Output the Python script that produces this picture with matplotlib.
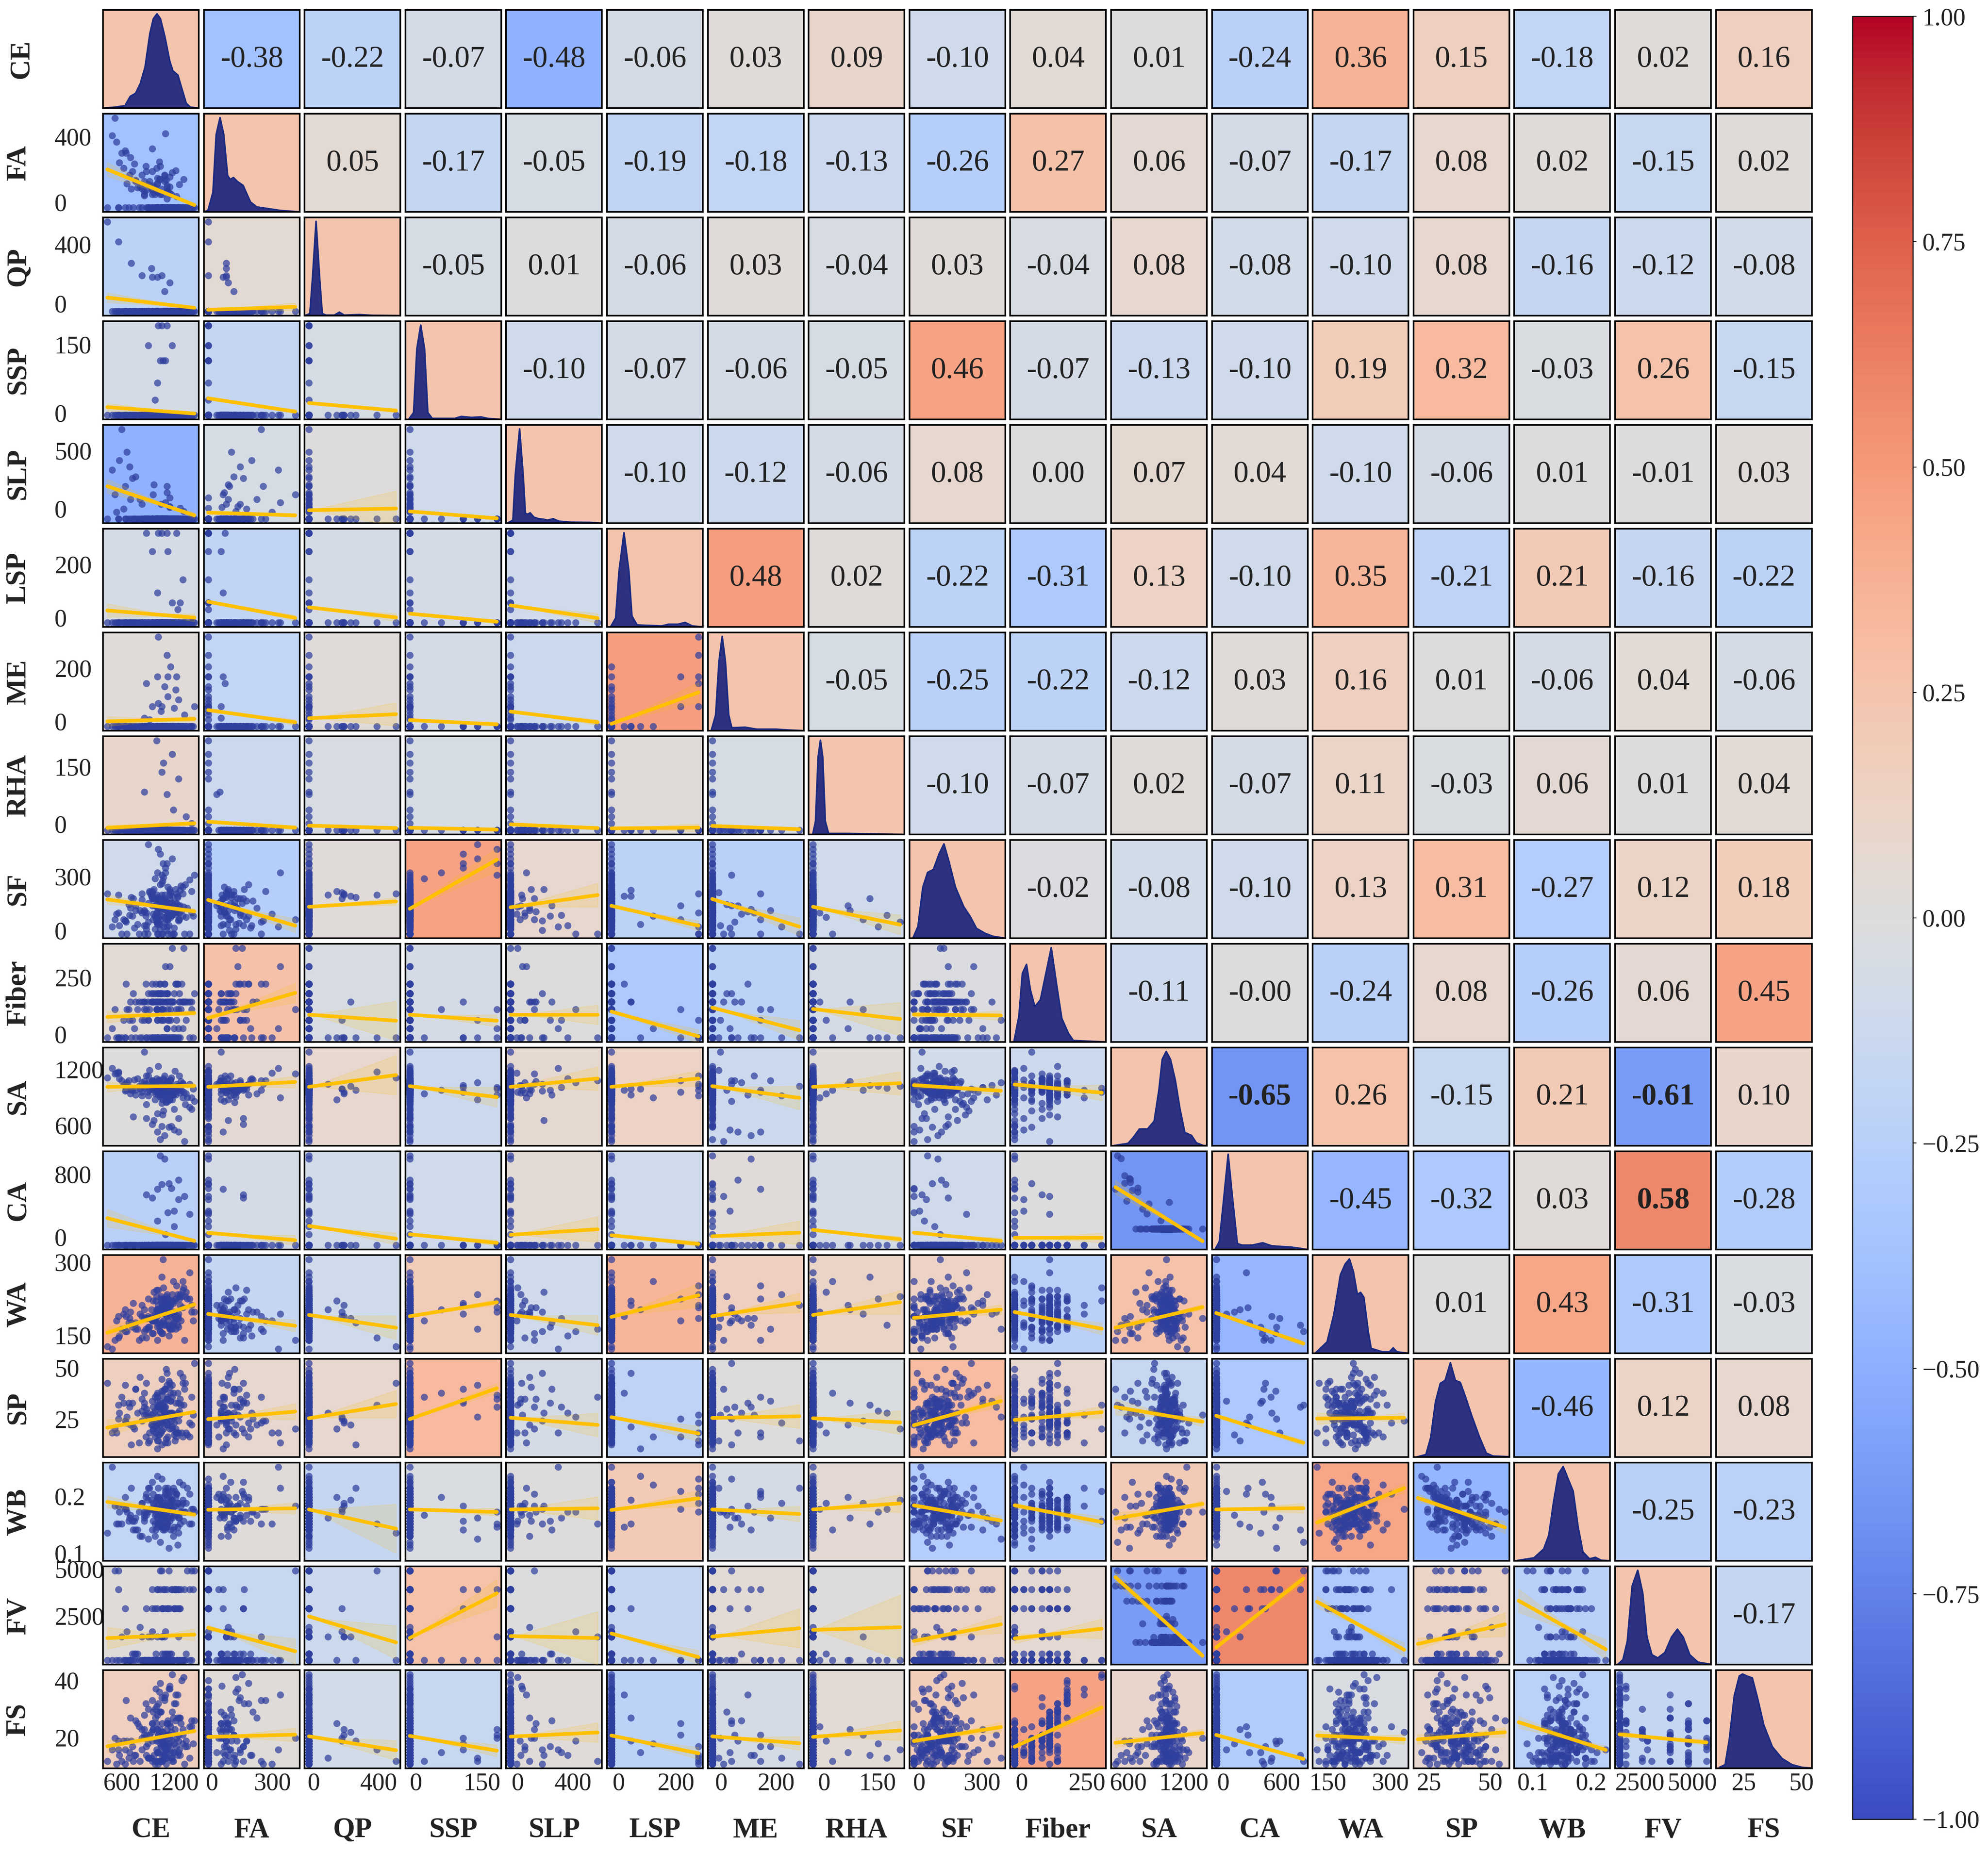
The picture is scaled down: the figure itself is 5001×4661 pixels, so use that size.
#!/usr/bin/env python3
"""Pair plot of the mix design variables with correlation coloured panels."""

import numpy as np
import matplotlib
matplotlib.use("Agg")
import matplotlib.pyplot as plt
from matplotlib.cm import ScalarMappable
from matplotlib.colors import Normalize

plt.rcParams['font.family'] = ['Liberation Serif', 'DejaVu Serif']

names = ["CE", "FA", "QP", "SSP", "SLP", "LSP", "ME", "RHA", "SF", "Fiber",
         "SA", "CA", "WA", "SP", "WB", "FV", "FS"]

CE = [920, 985, 1040, 1090, 960, 1010, 1130, 875, 1065, 1005,
      1000, 1150, 1240, 960, 1080, 1330, 1190, 1020, 1270, 905,
      1110, 1220, 1380, 1050, 1300, 1160, 990, 1434, 1240, 1075,
      620, 780, 700, 860, 540, 905, 830, 650, 960, 745,
      600, 520, 690, 640, 760, 570, 810, 490, 720, 660,
      434, 560, 710, 1060, 830, 1010, 940, 1150, 950, 1090,
      980, 1010, 1075, 1040, 1100, 905, 1180, 1020, 1120, 1060,
      1020, 1120, 1230, 880, 1060, 1130, 950, 1180, 1010, 1300,
      1000, 860, 1180, 1060, 1250, 1120, 1190, 1340, 1400, 1080,
      1170, 1040, 1250, 880, 1090, 1140, 1320, 1010, 950, 1200,
      760, 980, 1130, 1060, 1250, 1010, 1200, 860, 1380, 1100,
      1040, 1150, 1180, 950, 1260, 1100, 1030, 1310, 1220, 1120,
      1040, 1100, 980, 1160, 1220, 900, 1060, 1130, 1010, 1190,
      1090, 950, 1270, 1030, 1150, 1070, 860, 1210, 1120, 1000,
      1060, 1180, 940, 1110, 1280, 1020, 1140, 830, 1240, 1080,
      560, 680, 800, 640, 730, 880, 1350, 1400, 1420, 1300,
      1010, 1050, 1170, 1090, 970, 1230, 1120, 1040, 1150, 1260,
      1080, 1130, 1000, 1200, 920, 1160, 1070, 1290, 1020, 1110]
FA = [120, 85, 60, 150, 100, 135, 75, 190, 60, 110,
      0, 0, 0, 0, 0, 0, 0, 0, 0, 0,
      0, 0, 0, 0, 0, 0, 0, 0, 0, 0,
      180, 90, 230, 120, 300, 105, 150, 250, 70, 200,
      250, 410, 150, 260, 120, 205, 95, 330, 165, 110,
      0, 0, 85, 0, 85, 70, 85, 95, 85, 120,
      0, 0, 0, 0, 0, 0, 0, 0, 0, 0,
      0, 0, 0, 80, 0, 0, 60, 0, 70, 0,
      0, 55, 0, 0, 0, 40, 0, 0, 0, 0,
      0, 0, 0, 165, 0, 0, 0, 0, 165, 0,
      125, 60, 0, 0, 0, 70, 0, 60, 0, 0,
      190, 140, 160, 270, 0, 340, 210, 130, 170, 90,
      0, 0, 0, 0, 0, 0, 0, 0, 0, 0,
      0, 0, 0, 130, 0, 0, 75, 0, 100, 0,
      0, 0, 0, 0, 0, 0, 0, 0, 0, 0,
      0, 0, 0, 0, 0, 0, 0, 0, 0, 0,
      110, 85, 60, 145, 95, 50, 75, 130, 65, 105,
      0, 0, 180, 0, 0, 0, 0, 0, 0, 125]
QP = [0] * 50 + [500, 390, 270, 200, 200, 190, 240, 160, 190, 110] + [0] * 120
SSP = [0] * 60 + [30, 65, 110, 110, 110, 140, 140, 180, 180, 180] + [0] * 110
SLP = ([0] * 30 + [60, 0, 120, 0, 40, 0, 90, 0, 150, 0]
       + [550, 150, 320, 200, 260, 360, 120, 300, 250, 410]
       + [0] * 60 + [0, 75, 0, 0, 0, 100, 0, 45, 0, 0]
       + [0] * 10 + [0, 0, 65, 0, 130, 0, 0, 0, 200, 0]
       + [0] * 20 + [0, 90, 0, 0, 210, 0, 160, 0, 70, 0] + [0] * 10)
LSP = ([0] * 10 + [0, 0, 40, 0, 0, 0, 0, 0, 60, 0] + [0] * 50
       + [270, 270, 270, 270, 270, 215, 215, 60, 90, 130] + [0] * 100)
ME = ([0] * 20 + [0, 110, 0, 45, 0, 180, 0, 60, 0, 0] + [0] * 40
      + [270, 215, 150, 130, 60, 150, 60, 0, 0, 0] + [0] * 10
      + [0, 0, 80, 0, 120, 0, 35, 0, 0, 55]
      + [0, 0, 0, 0, 0, 150, 0, 25, 0, 0] + [0] * 60
      + [0, 90, 0, 0, 20, 0, 0, 0, 70, 0])
RHA = [0] * 80 + [200, 85, 170, 130, 115, 80, 45, 30, 15, 150] + [0] * 90
SF = [180, 120, 95, 150, 60, 110, 200, 75, 140, 165,
      90, 130, 160, 85, 110, 210, 120, 70, 185, 50,
      140, 95, 230, 125, 170, 100, 65, 250, 155, 115,
      60, 40, 110, 0, 85, 130, 90, 50, 150, 25,
      0, 60, 80, 55, 120, 35, 100, 30, 75, 0,
      170, 165, 155, 165, 170, 150, 160, 180, 175, 165,
      235, 260, 300, 340, 280, 380, 320, 360, 300, 250,
      0, 30, 170, 90, 0, 60, 120, 160, 40, 75,
      50, 100, 80, 150, 60, 120, 0, 70, 90, 30,
      0, 60, 120, 35, 105, 80, 0, 45, 150, 25,
      100, 75, 0, 140, 55, 0, 90, 35, 0, 115,
      210, 150, 130, 180, 90, 260, 140, 115, 190, 75,
      105, 130, 20, 175, 85, 0, 215, 60, 145, 100,
      70, 155, 120, 40, 190, 0, 95, 135, 15, 85,
      125, 80, 165, 60, 205, 110, 35, 145, 90, 240,
      90, 125, 0, 55, 150, 20, 110, 180, 75, 200,
      155, 75, 115, 45, 190, 130, 95, 20, 165, 60,
      115, 85, 140, 0, 175, 70, 225, 100, 50, 135]
Fiber = [94, 120, 148, 180, 120, 94, 59, 180, 148, 120,
         120, 120, 180, 148, 94, 120, 0, 148, 120, 59,
         0, 180, 120, 148, 120, 94, 180, 148, 0, 120,
         59, 94, 120, 94, 0, 148, 59, 180, 120, 31,
         0, 94, 59, 0, 120, 0, 0, 31, 59, 94,
         0, 0, 0, 0, 0, 59, 120, 0, 0, 0,
         0, 94, 0, 120, 0, 59, 0, 0, 31, 94,
         0, 0, 59, 0, 0, 94, 0, 120, 0, 31,
         0, 120, 0, 0, 94, 31, 0, 59, 120, 0,
         0, 0, 0, 94, 0, 59, 120, 0, 0, 31,
         0, 0, 0, 0, 31, 0, 0, 59, 0, 0,
         180, 239, 300, 180, 148, 239, 120, 300, 180, 148,
         120, 120, 148, 120, 0, 120, 94, 148, 59, 120,
         148, 120, 0, 180, 120, 59, 120, 0, 148, 94,
         0, 120, 148, 120, 94, 148, 0, 120, 180, 59,
         0, 94, 120, 0, 148, 0, 120, 94, 0, 120,
         148, 59, 120, 180, 0, 94, 120, 148, 0, 120,
         0, 120, 94, 148, 0, 59, 120, 180, 120, 0]
SA = [1000, 1040, 960, 1100, 1010, 980, 880, 1060, 1000, 1030,
      1020, 900, 1000, 1090, 1120, 850, 970, 1040, 1010, 1150,
      1030, 950, 820, 1000, 1060, 1100, 980, 880, 1040, 1010,
      1050, 1120, 960, 1020, 1180, 940, 1080, 1000, 1060, 1110,
      1100, 1170, 1030, 1060, 950, 1120, 1010, 1230, 1000, 1080,
      1130, 1190, 1000, 960, 980, 1010, 1040, 900, 1010, 1060,
      960, 1000, 1030, 1050, 980, 1080, 900, 950, 1030, 1010,
      1040, 940, 1000, 1150, 1060, 980, 1100, 950, 1010, 920,
      1040, 1090, 1020, 1050, 1000, 1060, 1000, 960, 920, 1040,
      620, 480, 560, 700, 520, 610, 460, 750, 640, 580,
      1000, 900, 1040, 620, 700, 560, 800, 1400, 1060, 950,
      950, 1000, 1020, 1100, 1040, 920, 1110, 980, 1010, 1060,
      1000, 940, 1050, 1110, 1020, 980, 860, 1070, 1010, 950,
      1150, 1030, 970, 1080, 1000, 900, 1040, 1200, 990, 1120,
      1060, 960, 1010, 880, 1090, 1250, 1030, 940, 1000, 780,
      1180, 1100, 1040, 990, 720, 850, 920, 800, 1010, 1070,
      1020, 970, 1130, 1000, 680, 1060, 1090, 930, 1040, 1150,
      1000, 1080, 1010, 960, 1210, 1050, 740, 990, 1100, 870]
CA = ([0] * 22 + [380] + [0] * 67
      + [700, 1100, 800, 620, 1060, 760, 600, 300, 580, 420]
      + [0, 0, 400, 750, 560, 690, 230, 0, 0, 130] + [0] * 70)
WA = [195, 205, 180, 235, 190, 210, 240, 170, 225, 200,
      215, 170, 200, 235, 190, 245, 185, 260, 225, 240,
      205, 195, 300, 245, 220, 170, 235, 210, 250, 330,
      205, 170, 210, 165, 190, 175, 150, 200, 160, 180,
      170, 145, 195, 165, 185, 155, 205, 125, 175, 165,
      130, 150, 185, 225, 200, 210, 195, 235, 200, 215,
      190, 215, 225, 205, 230, 170, 250, 210, 235, 220,
      225, 250, 270, 195, 220, 240, 190, 235, 215, 280,
      245, 215, 180, 290, 205, 225, 280, 255, 210, 240,
      200, 165, 195, 150, 180, 175, 145, 215, 160, 185,
      170, 190, 220, 160, 175, 145, 210, 195, 240, 205,
      215, 225, 235, 190, 245, 205, 210, 265, 240, 200,
      185, 210, 195, 225, 170, 200, 240, 180, 215, 230,
      205, 190, 250, 175, 220, 160, 195, 235, 210, 185,
      230, 170, 215, 245, 190, 205, 155, 225, 180, 265,
      200, 185, 145, 215, 230, 195, 240, 225, 190, 260,
      175, 235, 205, 180, 255, 195, 220, 165, 210, 240,
      220, 190, 260, 200, 175, 230, 185, 245, 205, 215]
SP = [20, 25, 30, 28, 22, 33, 38, 18, 27, 26,
      24, 30, 40, 21, 33, 45, 29, 19, 50, 15,
      28, 35, 25, 32, 45, 36, 20, 55, 30, 26,
      35, 30, 24, 40, 20, 28, 37, 25, 33, 22,
      38, 22, 33, 26, 42, 30, 48, 20, 35, 28,
      45, 34, 14, 25, 26, 28, 24, 22, 27, 30,
      38, 40, 35, 36, 42, 28, 44, 33, 37, 39,
      16, 25, 20, 29, 14, 18, 27, 23, 12, 18,
      22, 35, 30, 34, 26, 24, 40, 20, 24, 31,
      30, 34, 20, 45, 33, 27, 42, 16, 36, 28,
      42, 31, 24, 41, 35, 38, 19, 29, 18, 36,
      25, 29, 22, 26, 31, 15, 27, 34, 20, 44,
      26, 33, 18, 40, 22, 30, 47, 15, 36, 28,
      31, 24, 37, 19, 43, 27, 33, 16, 50, 23,
      21, 38, 29, 17, 34, 25, 46, 31, 20, 41,
      27, 35, 15, 44, 23, 32, 19, 38, 29, 48,
      34, 20, 26, 42, 30, 18, 37, 24, 45, 29,
      22, 30, 39, 25, 16, 36, 28, 20, 33, 52]
WB = [.155, .150, .17, .145, .165, .16, .14, .175, .15, .16,
      .155, .165, .125, .135, .14, .15, .11, .17, .13, .19,
      .13, .16, .18, .145, .17, .14, .12, .15, .095, .155,
      .16, .12, .145, .135, .13, .15, .165, .155, .18, .135,
      .13, .16, .14, .155, .12, .15, .11, .225, .135, .15,
      .115, .13, .19, .16, .165, .15, .17, .175, .155, .14,
      .145, .175, .12, .135, .16, .105, .14, .13, .15, .125,
      .19, .165, .18, .15, .205, .185, .155, .17, .21, .195,
      .17, .14, .155, .13, .165, .175, .12, .165, .155, .15,
      .16, .10, .14, .18, .12, .09, .15, .13, .2, .125,
      .14, .11, .19, .125, .115, .175, .145, .15, .13, .185,
      .17, .16, .185, .155, .14, .19, .15, .135, .175, .125,
      .15, .18, .13, .16, .145, .17, .125, .155, .14, .19,
      .165, .12, .15, .175, .135, .16, .145, .185, .13, .155,
      .14, .17, .155, .125, .16, .15, .18, .11, .165, .145,
      .16, .135, .15, .175, .12, .145, .19, .13, .155, .165,
      .125, .155, .17, .14, .16, .18, .15, .135, .145, .2,
      .175, .13, .145, .16, .19, .12, .165, .15, .14, .155]
FV = [0, 0, 0, 360, 0, 0, 0, 0, 360, 0,
      0, 2900, 0, 0, 3960, 0, 0, 0, 2900, 0,
      0, 2900, 3960, 0, 0, 0, 360, 5000, 0, 0,
      0, 360, 0, 0, 0, 1300, 0, 0, 0, 360,
      1300, 5000, 0, 0, 360, 0, 1840, 0, 360, 1600,
      0, 5000, 0, 1300, 1300, 2900, 1300, 0, 1600, 1300,
      0, 0, 0, 3960, 2900, 0, 3960, 0, 3960, 1300,
      0, 0, 0, 0, 0, 0, 0, 0, 0, 0,
      0, 0, 0, 0, 1300, 0, 0, 360, 0, 0,
      3960, 5000, 3960, 2900, 3960, 5000, 3960, 1300, 2900, 2900,
      0, 0, 2900, 5000, 3960, 3960, 2900, 0, 0, 1600,
      0, 0, 0, 0, 2900, 0, 0, 0, 3960, 0,
      0, 0, 2900, 0, 3960, 0, 0, 2900, 3960, 0,
      0, 3960, 0, 0, 0, 2900, 0, 3960, 0, 0,
      2900, 0, 0, 0, 3960, 0, 0, 0, 2900, 0,
      3960, 0, 0, 2900, 0, 0, 5000, 5000, 3960, 0,
      0, 0, 360, 0, 0, 3960, 0, 0, 360, 0,
      0, 360, 0, 3960, 0, 0, 2900, 0, 0, 360]
FS = [22, 28, 30, 35, 24, 20, 18, 33, 26, 24,
      26, 22, 36, 30, 20, 18, 16, 33, 28, 14,
      14, 36, 25, 30, 22, 18, 38, 27, 15, 23,
      20, 26, 28, 22, 12, 31, 17, 34, 24, 15,
      13, 21, 16, 12, 27, 15, 13, 17, 18, 20,
      13, 17, 20, 22, 24, 21, 23, 26, 20, 14,
      13, 16, 21, 19, 17, 14, 13, 22, 24, 21,
      12, 14, 18, 15, 13, 22, 26, 20, 16, 19,
      17, 24, 14, 15, 22, 16, 13, 20, 25, 19,
      14, 13, 20, 18, 15, 19, 12, 24, 13, 16,
      15, 12, 22, 20, 16, 13, 19, 21, 14, 17,
      40, 38, 43, 34, 28, 36, 30, 42, 33, 26,
      24, 20, 31, 16, 27, 19, 35, 22, 13, 28,
      18, 26, 15, 37, 21, 13, 29, 24, 17, 32,
      23, 30, 14, 19, 26, 16, 38, 21, 28, 15,
      20, 14, 25, 17, 13, 22, 18, 27, 19, 24,
      29, 18, 23, 34, 15, 21, 26, 13, 39, 17,
      16, 27, 20, 33, 14, 25, 18, 41, 22, 12]
columns = [CE, FA, QP, SSP, SLP, LSP, ME, RHA, SF, Fiber, SA, CA, WA, SP, WB, FV, FS]

# smallest and largest value of each variable
data_min = [434, 0, 0, 0, 0, 0, 0, 0, 0, 0, 460, 0, 125, 10, 0.076, 0, 12]
data_max = [1434, 410, 500, 180, 550, 270, 270, 200, 380, 300, 1400, 1100, 330, 55, 0.225, 5000, 43]

# correlation coefficients printed above the diagonal, one list per row
corr_CE = [-0.38, -0.22, -0.07, -0.48, -0.06, 0.03, 0.09, -0.10, 0.04, 0.01, -0.24, 0.36, 0.15, -0.18, 0.02, 0.16]
corr_FA = [0.05, -0.17, -0.05, -0.19, -0.18, -0.13, -0.26, 0.27, 0.06, -0.07, -0.17, 0.08, 0.02, -0.15, 0.02]
corr_QP = [-0.05, 0.01, -0.06, 0.03, -0.04, 0.03, -0.04, 0.08, -0.08, -0.10, 0.08, -0.16, -0.12, -0.08]
corr_SSP = [-0.10, -0.07, -0.06, -0.05, 0.46, -0.07, -0.13, -0.10, 0.19, 0.32, -0.03, 0.26, -0.15]
corr_SLP = [-0.10, -0.12, -0.06, 0.08, 0.00, 0.07, 0.04, -0.10, -0.06, 0.01, -0.01, 0.03]
corr_LSP = [0.48, 0.02, -0.22, -0.31, 0.13, -0.10, 0.35, -0.21, 0.21, -0.16, -0.22]
corr_ME = [-0.05, -0.25, -0.22, -0.12, 0.03, 0.16, 0.01, -0.06, 0.04, -0.06]
corr_RHA = [-0.10, -0.07, 0.02, -0.07, 0.11, -0.03, 0.06, 0.01, 0.04]
corr_SF = [-0.02, -0.08, -0.10, 0.13, 0.31, -0.27, 0.12, 0.18]
corr_Fiber = [-0.11, -0.0, -0.24, 0.08, -0.26, 0.06, 0.45]
corr_SA = [-0.65, 0.26, -0.15, 0.21, -0.61, 0.10]
corr_CA = [-0.45, -0.32, 0.03, 0.58, -0.28]
corr_WA = [0.01, 0.43, -0.31, -0.03]
corr_SP = [-0.46, 0.12, 0.08]
corr_WB = [-0.25, -0.23]
corr_FV = [-0.17]
corr_rows = [corr_CE, corr_FA, corr_QP, corr_SSP, corr_SLP, corr_LSP, corr_ME, corr_RHA,
             corr_SF, corr_Fiber, corr_SA, corr_CA, corr_WA, corr_SP, corr_WB, corr_FV]

# fit line height at its two ends and confidence half widths, as share of the y axis
reg_start = [
    [.433],
    [.184, .06],
    [.125, .215, .167],
    [.376, .108, .132, .12],
    [.168, .257, .2, .135, .22],
    [.095, .21, .127, .108, .195, .07],
    [.068, .13, .09, .068, .103, .062, .087],
    [.395, .39, .32, .3, .315, .33, .4, .32],
    [.255, .244, .278, .278, .278, .31, .35, .336, .28],
    [.6, .6, .6, .607, .6, .6, .607, .6, .617, .624],
    [.32, .17, .24, .155, .15, .145, .135, .2, .172, .12, .635],
    [.21, .4, .39, .377, .39, .37, .377, .39, .36, .42, .26, .41],
    [.3, .386, .395, .386, .4, .406, .398, .395, .324, .378, .51, .42, .392],
    [.6, .52, .523, .523, .523, .517, .523, .523, .565, .565, .43, .523, .39, .64],
    [.27, .375, .49, .27, .29, .316, .285, .353, .24, .266, .89, .175, .64, .21, .65],
    [.224, .32, .326, .33, .323, .334, .326, .32, .278, .22, .26, .34, .334, .295, .47, .346],
]
reg_end = [
    [.07],
    [.08, .09],
    [.06, .08, .09],
    [.08, .08, .149, .05],
    [.095, .092, .097, .054, .09],
    [.12, .086, .168, .065, .086, .39],
    [.114, .07, .065, .05, .065, .07, .054],
    [.274, .128, .375, .8, .44, .128, .118, .138],
    [.295, .5, .217, .217, .278, .058, .12, .234, .27],
    [.61, .65, .72, .495, .685, .685, .488, .637, .56, .54],
    [.088, .095, .11, .068, .206, .057, .172, .105, .088, .12, .085],
    [.497, .28, .26, .52, .286, .59, .514, .52, .445, .25, .47, .1],
    [.46, .463, .54, .7, .327, .24, .415, .352, .57, .457, .36, .145, .4],
    [.47, .534, .327, .497, .534, .636, .477, .585, .41, .395, .58, .536, .74, .34],
    [.305, .135, .226, .726, .27, .076, .37, .38, .41, .365, .09, .876, .15, .41, .155],
    [.38, .343, .184, .18, .365, .153, .255, .385, .42, .62, .36, .096, .295, .368, .187, .264],
]
ci_start = [
    [.07],
    [.05, .01],
    [.04, .015, .01],
    [.07, .015, .005, .01],
    [.07, .015, .01, .01, .01],
    [.05, .015, .01, .01, .01, .01],
    [.03, .01, .005, .005, .01, .005, .005],
    [.05, .02, .01, .01, .01, .01, .01, .01],
    [.06, .02, .01, .01, .02, .01, .02, .01, .03],
    [.05, .02, .01, .01, .01, .01, .02, .01, .03, .04],
    [.09, .02, .01, .01, .01, .01, .01, .01, .02, .02, .07],
    [.06, .02, .01, .01, .01, .01, .02, .01, .02, .02, .05, .015],
    [.08, .02, .01, .01, .01, .01, .02, .01, .02, .04, .08, .01, .06],
    [.06, .015, .01, .01, .01, .01, .02, .01, .02, .03, .06, .01, .05, .04],
    [.11, .03, .02, .01, .015, .01, .03, .01, .05, .05, .06, .02, .06, .06, .12],
    [.06, .02, .01, .01, .01, .01, .02, .01, .02, .02, .05, .01, .05, .05, .06, .03],
]
ci_end = [
    [.02],
    [.01, .04],
    [.015, .02, .02],
    [.03, .02, .18, .02],
    [.04, .03, .04, .02, .05],
    [.03, .03, .12, .02, .03, .1],
    [.02, .02, .02, .02, .02, .04, .02],
    [.03, .07, .04, .12, .12, .05, .09, .1],
    [.03, .1, .2, .06, .1, .07, .1, .17, .05],
    [.03, .06, .2, .1, .12, .08, .12, .12, .05, .08],
    [.02, .05, .06, .03, .13, .03, .12, .03, .03, .05, .02],
    [.03, .06, .12, .03, .1, .12, .1, .12, .05, .06, .03, .03],
    [.02, .08, .14, .05, .12, .08, .12, .12, .06, .06, .05, .03, .05],
    [.03, .06, .25, .04, .12, .08, .08, .09, .05, .06, .03, .05, .05, .06],
    [.06, .13, .17, .14, .27, .07, .2, .33, .09, .1, .03, .05, .07, .12, .1],
    [.02, .07, .1, .06, .1, .06, .07, .1, .05, .07, .04, .02, .05, .05, .04, .03],
]

# density curves: position along the panel (percent) and height (share of the panel)
kde_CE = [(0, 0), (13, .01), (23, .025), (28.5, .12), (34, .15), (39, .25), (44, .42), (49, .76), (52.6, .91),
          (56.4, .96), (60, .91), (64.6, .73), (69.7, .48), (73, .38), (78.3, .335), (81.7, .22), (86.9, .05),
          (91.3, .01), (100, 0)]
kde_FA = [(0, 0), (4.4, .015), (9.6, .2), (13, .79), (17, .96), (20.8, .79), (24.9, .37), (27.6, .33), (31, .35),
          (35, .31), (41, .27), (48.8, .1), (55.5, .05), (65.8, .035), (79.5, .015), (100, 0)]
kde_QP = [(0, 0), (5.5, .02), (8.2, .37), (12, .96), (15.8, .37), (18.5, .02), (22.6, .005), (31, .005),
          (36.3, .035), (41.4, .005), (57, .011), (70.6, .003), (100, 0)]
kde_SSP = [(3.4, 0), (8.6, .07), (12, .72), (16, .96), (20, .72), (23.4, .07), (28, .01), (51.5, .01), (58.4, .03),
           (68.7, .02), (79, .025), (86, .01), (100, 0)]
kde_SLP = [(2, .005), (7, .03), (9.5, .49), (14, .96), (17.7, .49), (20, .1), (22.4, .09), (25, .105), (29, .06),
           (34, .045), (39, .04), (43, .03), (49, .045), (55, .02), (67, .01), (87, .008), (100, 0)]
kde_LSP = [(4, .005), (9, .09), (12.6, .57), (17.7, .96), (22.8, .57), (26, .11), (31.4, .02), (57, .01), (64, .027),
           (74, .027), (81.6, .046), (89, .01), (100, 0)]
kde_ME = [(3.7, .005), (8.2, .16), (11.6, .7), (15, .96), (18.4, .7), (21.8, .16), (25, .03), (39, .035), (51, .015),
          (71, .015), (88, .005), (100, 0)]
kde_RHA = [(4.4, .005), (7.2, .135), (9.9, .79), (12.3, .96), (14.7, .79), (17.4, .135), (20.8, .01), (41, .01), (100, 0)]
kde_SF = [(3.8, .005), (8.9, .12), (14, .52), (19, .67), (25, .7), (31, .86), (36, .96), (41, .79), (48, .52),
          (56.7, .32), (63.5, .22), (70, .1), (79, .05), (87, .02), (100, 0)]
kde_Fiber = [(4, .01), (9, .26), (12.7, .7), (17, .79), (21, .53), (25.7, .36), (31.5, .43), (36.6, .67), (42.8, .96),
             (48.6, .57), (53.8, .24), (60.6, .09), (65.8, .015), (100, 0)]
kde_SA = [(4, .003), (17.7, .024), (22.8, .08), (29.6, .17), (38, .17), (45, .25), (50, .57), (53.4, .88), (57.5, .96),
          (62, .88), (67, .67), (72, .37), (77, .135), (84, .105), (89, .03), (96, .003), (100, 0)]
kde_CA = [(3.7, .007), (7.8, .08), (12, .48), (17, .97), (22, .48), (26.6, .06), (31.7, .044), (42, .044), (53, .068),
          (62.5, .037), (83, .024), (93, .01), (100, 0)]
kde_WA = [(3.4, .007), (15, .115), (22, .39), (29, .8), (34, .91), (38.4, .96), (42.5, .83), (46.6, .6), (50, .62),
          (53.4, .57), (58, .22), (61, .05), (73, .014), (80, .014), (84, .054), (88, .014), (100, 0)]
kde_SP = [(4.4, .003), (13, .025), (18, .2), (23, .565), (28, .75), (33, .78), (38.5, .96), (43.7, .78), (48.8, .76),
          (54, .62), (60.8, .42), (69, .2), (76, .04), (83, .01), (100, .003)]
kde_WB = [(3.4, .003), (20.5, .03), (30.7, .12), (36, .26), (41, .6), (46, .885), (51, .96), (56.3, .83), (61.4, .71),
          (66.5, .35), (71.6, .09), (78.5, .02), (84.6, .035), (90.4, .006), (100, 0)]
kde_FV = [(3.4, .007), (8.2, .05), (12.7, .235), (17.8, .8), (23.6, .96), (28.8, .73), (33.2, .28), (38.4, .1),
          (44.5, .067), (52, .123), (58.9, .28), (65, .36), (71, .28), (77.9, .1), (86.3, .025), (100, .002)]
kde_FS = [(3.8, .01), (9.6, .037), (14, .296), (19.2, .74), (24.4, .94), (27.8, .96), (32.3, .94), (38, .92),
          (43.3, .72), (50, .44), (58.8, .22), (69, .1), (79.4, .037), (89.7, .01), (100, .002)]
kde_curves = [kde_CE, kde_FA, kde_QP, kde_SSP, kde_SLP, kde_LSP, kde_ME, kde_RHA, kde_SF, kde_Fiber,
              kde_SA, kde_CA, kde_WA, kde_SP, kde_WB, kde_FV, kde_FS]

# tick labels and where they sit along each panel edge
x_tick_labels = [["600", "1200"], ["0", "300"], ["0", "400"], ["0", "150"], ["0", "400"], ["0", "200"],
                 ["0", "200"], ["0", "150"], ["0", "300"], ["0", "250"], ["600", "1200"], ["0", "600"],
                 ["150", "300"], ["25", "50"], ["0.1", "0.2"], ["2500", "5000"], ["25", "50"]]
x_tick_at = [(.196, .742), (.085, .72), (.096, .774), (.11, .797), (.12, .70), (.12, .72), (.14, .71), (.16, .72),
             (.10, .76), (.12, .80), (.18, .76), (.12, .73), (.16, .81), (.16, .80), (.19, .80), (.257, .805), (.29, .89)]
y_tick_labels = [None, ["0", "400"], ["0", "400"], ["0", "150"], ["0", "500"], ["0", "200"], ["0", "200"],
                 ["0", "150"], ["0", "300"], ["0", "250"], ["600", "1200"], ["0", "800"], ["150", "300"],
                 ["25", "50"], ["0.1", "0.2"], ["2500", "5000"], ["20", "40"]]
y_tick_at = [None, (.07, .737), (.096, .70), (.04, .733), (.12, .71), (.065, .61), (.065, .61), (.08, .66),
             (.05, .60), (.05, .63), (.18, .75), (.10, .74), (.155, .90), (.36, .88), (.05, .63), (.469, .946), (.284, .87)]

# in the SA column the CA and FV points sit higher than in their other panels
lifted_panels = {(11, 10): 0.18, (15, 10): 0.2}

# figure layout in pixels
W, H = 5001, 4661
DPI = 300
LEFT, TOP = 259, 25
PANEL_W, PANEL_H = 241, 247
STEP_X, STEP_Y = 253.6, 261
CBAR = (4660, 41, 152, 4535)

DIAG_BG = "#F4C4AD"
KDE_FILL = "#2E3180"
KDE_EDGE = "#1B2A80"
POINT = "#2F3F9E"
FIT = "#FFC000"
TEXT = "#222222"


def panel_axes(fig, i, j):
    x0 = LEFT + j * STEP_X
    y0 = TOP + i * STEP_Y
    ax = fig.add_axes([x0 / W, 1 - (y0 + PANEL_H) / H, PANEL_W / W, PANEL_H / H])
    ax.set_xticks([])
    ax.set_yticks([])
    for s in ax.spines.values():
        s.set_linewidth(1.0)
        s.set_color("black")
    return ax


def axis_limits(k):
    pad = 0.05 * (data_max[k] - data_min[k])
    return data_min[k] - pad, data_max[k] + pad


def draw_fit(ax, i, j):
    """Fit line and fan shaped confidence band, typed as shares of the y axis."""
    ylo, yhi = axis_limits(i)
    span = yhi - ylo
    x0, x1 = data_min[j], data_max[j]
    y0 = ylo + reg_start[i - 1][j] * span
    y1 = ylo + reg_end[i - 1][j] * span
    c0 = ci_start[i - 1][j] * span
    c1 = ci_end[i - 1][j] * span

    # narrowest part of the band lies closer to the end with the smaller width
    t = c0 / (c0 + c1)
    xm = x0 + t * (x1 - x0)
    ym = y0 + t * (y1 - y0)
    cm = 0.25 * min(c0, c1)
    ax.fill_between([x0, xm, x1], [y0 - c0, ym - cm, y1 - c1], [y0 + c0, ym + cm, y1 + c1],
                    color=FIT, alpha=0.15, linewidth=0.5, zorder=3)
    ax.plot([x0, x1], [y0, y1], color=FIT, lw=2.2, solid_capstyle='round', zorder=4)


def main():
    fig = plt.figure(figsize=(W / DPI, H / DPI), dpi=DPI)
    cmap = plt.cm.coolwarm
    n = len(names)

    for i in range(n):
        for j in range(n):
            ax = panel_axes(fig, i, j)
            if i == j:
                # density panel on the diagonal
                ax.set_facecolor(DIAG_BG)
                pos = [p[0] for p in kde_curves[i]]
                dens = [p[1] for p in kde_curves[i]]
                ax.fill_between(pos, dens, 0, color=KDE_FILL, linewidth=0)
                ax.plot(pos, dens, color=KDE_EDGE, lw=1.0)
                ax.set_xlim(0, 100)
                ax.set_ylim(0, 1)
                xlo, xhi = 0, 100
                ylo, yhi = 0, 1
            elif i < j:
                r = corr_rows[i][j - i - 1]
                ax.set_facecolor(cmap((r + 1) / 2))
                ax.text(0.5, 0.495, f"{r:.2f}", transform=ax.transAxes, ha='center', va='center',
                        fontsize=18.3, color=TEXT, fontweight='bold' if abs(r) >= 0.5 else 'normal')
                xlo, xhi = axis_limits(j)
                ylo, yhi = axis_limits(i)
                ax.set_xlim(xlo, xhi)
                ax.set_ylim(ylo, yhi)
            else:
                r = corr_rows[j][i - j - 1]
                ax.set_facecolor(cmap((r + 1) / 2))
                xlo, xhi = axis_limits(j)
                ylo, yhi = axis_limits(i)
                ys = np.array(columns[i], dtype=float)
                if (i, j) in lifted_panels:
                    ys = ys + lifted_panels[(i, j)] * (data_max[i] - ys)
                ax.scatter(columns[j], ys, s=18, color=POINT, alpha=0.72, linewidth=0, zorder=2)
                draw_fit(ax, i, j)
                ax.set_xlim(xlo, xhi)
                ax.set_ylim(ylo, yhi)

            if i == n - 1:
                ax.set_xticks([xlo + f * (xhi - xlo) for f in x_tick_at[j]])
                ax.set_xticklabels(x_tick_labels[j], fontsize=15, color=TEXT)
                ax.tick_params(axis='x', length=0, pad=2.5)
            if j == 0 and i > 0:
                ax.set_yticks([ylo + f * (yhi - ylo) for f in y_tick_at[i]])
                ax.set_yticklabels(y_tick_labels[i], fontsize=15, color=TEXT, va='center', ha='left')
                ax.tick_params(axis='y', length=0, pad=29.3)

    # variable names on the outer edges
    for k, name in enumerate(names):
        cy = TOP + k * STEP_Y + PANEL_H / 2
        fig.text((54 if k == 0 else 46) / W, 1 - cy / H, name, rotation=90, ha='center', va='center',
                 fontsize=17, fontweight='bold', color=TEXT)
        cx = LEFT + k * STEP_X + PANEL_W / 2
        fig.text(cx / W, 1 - 4604 / H, name, ha='center', va='center',
                 fontsize=17, fontweight='bold', color=TEXT)

    cx0, cy0, cw, ch = CBAR
    cax = fig.add_axes([cx0 / W, 1 - (cy0 + ch) / H, cw / W, ch / H])
    sm = ScalarMappable(norm=Normalize(-1, 1), cmap=cmap)
    cb = fig.colorbar(sm, cax=cax)
    cb.set_ticks(np.arange(-1, 1.01, 0.25))
    cb.ax.set_yticklabels([f"{t:.2f}".replace("-", "\u2212") for t in np.arange(-1, 1.01, 0.25)])
    cb.ax.tick_params(labelsize=15, length=2.2, width=0.5, pad=3.5, labelcolor=TEXT)
    cb.outline.set_linewidth(0.6)

    fig.savefig("out.png", dpi=DPI)
    print("Saved out.png")


if __name__ == "__main__":
    main()
